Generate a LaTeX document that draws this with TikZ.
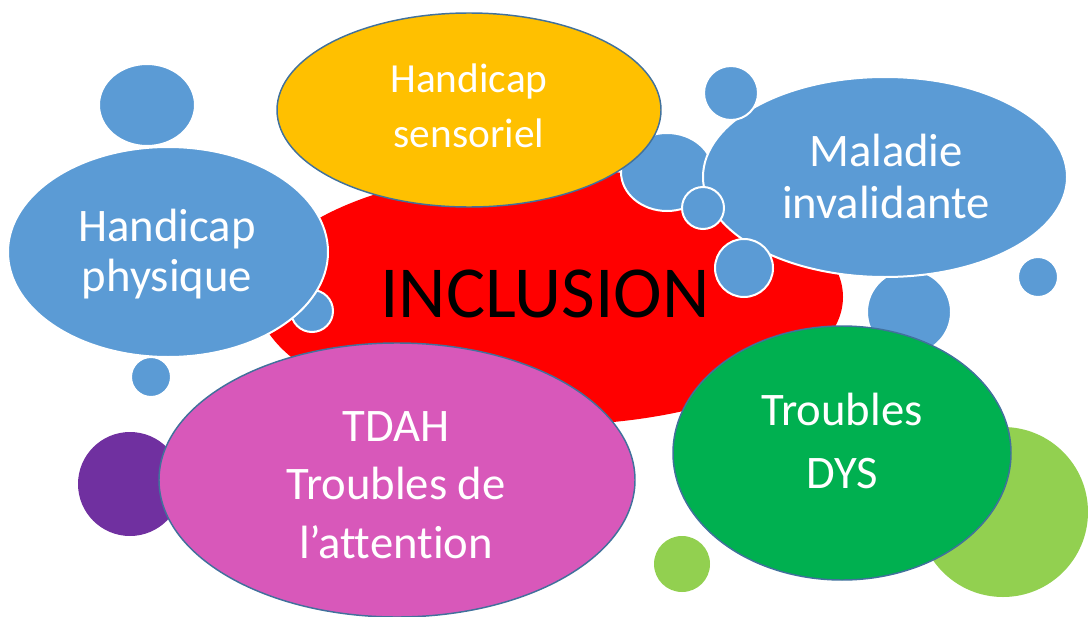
\documentclass[tikz,border=0pt]{standalone}
\usepackage{fontspec}
\setmainfont{Carlito}[Ligatures=NoCommon]
\definecolor{bubred}{HTML}{FF0000}
\definecolor{bubyellow}{HTML}{FFC000}
\definecolor{bubblue}{HTML}{5B9BD5}
\definecolor{bubpink}{HTML}{D858BA}
\definecolor{bubpurple}{HTML}{7030A0}
\definecolor{bubgreen}{HTML}{00B050}
\definecolor{bublime}{HTML}{92D050}
\definecolor{bubedge}{HTML}{41719C}
\newcommand{\bubfont}[2]{\fontsize{#1}{#2}\selectfont}

\begin{document}
\begin{tikzpicture}[x=0.75pt, y=-0.75pt,
	blueb/.style={fill=bubblue, draw=white, line width=1.5pt},
	edgeb/.style={draw=bubedge, line width=1.1pt},
	lbl/.style={inner sep=0pt, align=center, text=white}]
	\useasboundingbox (0,0) rectangle (1088,617);
	% Inclusion
	\fill [bubred] (550,297) ellipse [x radius=293, y radius=128];
	\fill [blueb] (667,172) ellipse [x radius=46, y radius=39];
	% Handicap sensoriel
	\filldraw [edgeb, fill=bubyellow] (469,110) ellipse [x radius=192, y radius=97];
	% Handicap physique
	\fill [blueb] (147,105) ellipse [x radius=48, y radius=41];
	\filldraw [blueb] (312,311) circle (21);
	\filldraw [blueb] (151,377) circle (20);
	\filldraw [blueb] (168,252) ellipse [x radius=160, y radius=105];
	% Maladie invalidante
	\filldraw [blueb] (909,312) circle (42);
	\filldraw [blueb] (885,177) ellipse [x radius=182, y radius=100];
	\filldraw [blueb] (731,93) circle (27);
	\filldraw [blueb] (703,208) circle (21);
	\filldraw [blueb] (744,268) circle (29);
	\filldraw [blueb] (1038,277) circle (20);
	% TDAH
	\fill [bubpurple] (130,484) circle (52);
	\filldraw [edgeb, fill=bubpink] (397,480) ellipse [x radius=238, y radius=137];
	% Troubles DYS
	\fill [bublime] (1003,512) circle (85);
	\fill [bublime] (682,564) circle (28);
	\filldraw [edgeb, fill=bubgreen] (842,453) ellipse [x radius=169, y radius=127];
	%
	\node [inner sep=0pt, font={\bubfont{55}{66}}] (inclusion) at (545,294) {INCLUSION};
	\node [lbl, font={\bubfont{31}{41.25}}] (sensoriel) at (469,106) {Handicap\\sensoriel};
	\node [lbl, font={\bubfont{35}{37.5}}] (physique) at (167,254) {Handicap\\physique};
	\node [lbl, font={\bubfont{35}{39}}] (maladie) at (886,176) {Maladie\\invalidante};
	\node [lbl, font={\bubfont{35}{44}}] (tdah) at (396,485) {TDAH\\Troubles de\\l’attention};
	\node [lbl, font={\bubfont{35}{47}}] (dys) at (842,441) {Troubles\\DYS};
\end{tikzpicture}
\end{document}
